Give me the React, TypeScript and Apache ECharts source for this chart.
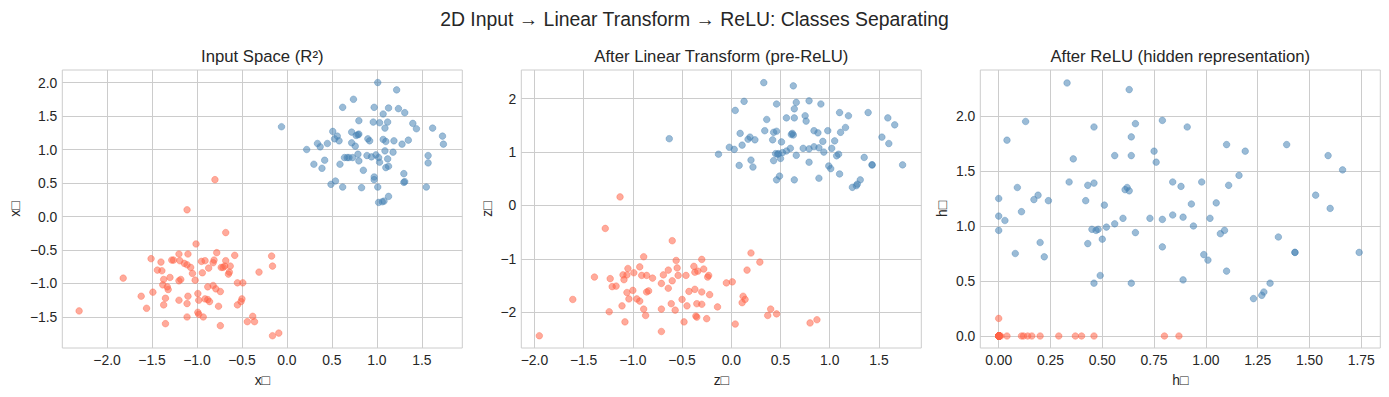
import React, { useEffect, useRef } from "react";
import * as echarts from "echarts";

const SUPTITLE = "2D Input → Linear Transform → ReLU: Classes Separating";
const PANEL_TITLES = [
  "Input Space (R²)",
  "After Linear Transform (pre-ReLU)",
  "After ReLU (hidden representation)",
];
const X_NAMES = ["x□", "z□", "h□"];
const Y_NAMES = ["x□", "z□", "h□"];

const P1_X_TICKS = [-2, -1.5, -1, -0.5, 0, 0.5, 1, 1.5];
const P1_Y_TICKS = [-1.5, -1, -0.5, 0, 0.5, 1, 1.5, 2];
const P2_X_TICKS = [-2, -1.5, -1, -0.5, 0, 0.5, 1, 1.5];
const P2_Y_TICKS = [-2, -1, 0, 1, 2];
const P3_X_TICKS = [0, 0.25, 0.5, 0.75, 1, 1.25, 1.5, 1.75];
const P3_Y_TICKS = [0, 0.5, 1, 1.5, 2];

// Panel 1: input space
const inputBlue = [
  [1.01, 2.0], [1.22, 1.89], [0.74, 1.75], [0.62, 1.63], [0.97, 1.63], [1.13, 1.62], [1.24, 1.61],
  [1.31, 1.55], [1.07, 1.53], [0.8, 1.43], [0.96, 1.41], [1.03, 1.4], [1.12, 1.41], [1.4, 1.39],
  [1.09, 1.32], [1.44, 1.31], [1.62, 1.32], [-0.06, 1.34], [0.51, 1.27], [0.56, 1.2], [0.72, 1.26],
  [0.79, 1.22], [0.77, 1.21], [0.8, 1.23], [1.73, 1.2], [1.74, 1.08], [0.34, 1.09], [0.37, 1.04],
  [0.45, 1.09], [0.53, 1.16], [0.58, 1.13], [0.72, 1.1], [0.76, 1.05], [0.9, 1.16], [0.92, 1.13],
  [1.07, 1.15], [1.1, 1.12], [1.19, 1.13], [1.28, 1.08], [1.35, 1.14], [0.22, 1.0], [1.09, 0.98],
  [1.18, 0.96], [1.57, 0.91], [1.57, 0.8], [0.42, 0.84], [0.3, 0.78], [0.39, 0.72], [0.59, 0.78],
  [0.64, 0.88], [0.67, 0.88], [0.69, 0.88], [0.73, 0.88], [0.79, 0.93], [0.8, 0.83], [0.89, 0.91],
  [0.94, 0.89], [0.99, 0.92], [1.02, 0.88], [1.03, 0.81], [1.12, 0.86], [1.1, 0.73], [1.13, 0.75],
  [0.85, 0.69], [1.3, 0.64], [1.3, 0.51], [1.31, 0.52], [0.97, 0.59], [0.97, 0.55], [0.54, 0.53],
  [0.49, 0.48], [0.62, 0.44], [0.83, 0.43], [1.01, 0.44], [1.55, 0.44], [1.13, 0.3], [1.08, 0.23],
  [1.06, 0.22], [1.02, 0.21],
];
const inputRed = [
  [-0.8, 0.55], [-1.11, 0.1], [-0.68, -0.24], [-1.01, -0.41], [-2.31, -1.41], [-1.82, -0.92],
  [-1.51, -0.63], [-1.4, -0.68], [-1.44, -0.8], [-1.39, -0.81], [-1.2, -0.56], [-1.1, -0.56],
  [-1.28, -0.65], [-1.26, -0.65], [-1.19, -0.66], [-1.14, -0.7], [-1.11, -0.72], [-1.07, -0.76],
  [-0.95, -0.67], [-0.91, -0.66], [-0.81, -0.65], [-0.78, -0.54], [-0.82, -0.69], [-0.68, -0.66],
  [-0.69, -0.74], [-0.63, -0.74], [-0.58, -0.58], [-0.71, -0.76], [-0.73, -0.76], [-0.87, -0.77],
  [-0.94, -0.84], [-1.37, -0.94], [-1.3, -0.91], [-1.2, -0.96], [-1.18, -0.94], [-1.05, -0.85],
  [-1.02, -0.95], [-0.65, -0.86], [-0.64, -0.83], [-0.55, -0.99], [-1.38, -1.02], [-1.33, -1.05],
  [-1.32, -1.09], [-1.49, -1.13], [-1.62, -1.19], [-1.35, -1.22], [-1.37, -1.32], [-1.56, -1.37],
  [-1.2, -1.25], [-1.1, -1.19], [-1.11, -1.3], [-0.99, -1.15], [-0.98, -1.25], [-0.91, -1.23],
  [-0.88, -1.24], [-0.86, -1.27], [-0.88, -1.05], [-0.82, -1.03], [-0.79, -1.08], [-0.74, -1.12],
  [-0.76, -1.34], [-0.55, -1.32], [-1.11, -1.5], [-0.99, -1.43], [-0.98, -1.46], [-0.93, -1.5],
  [-1.35, -1.6], [-0.74, -1.63], [-0.17, -0.59], [-0.16, -0.74], [-0.31, -0.83], [-0.49, -0.99],
  [-0.5, -1.23], [-0.51, -1.27], [-0.38, -1.49], [-0.44, -1.57], [-0.36, -1.57], [-0.16, -1.78],
  [-0.09, -1.74],
];

// Panel 2: after linear transform
const linearBlue = [
  [-0.63, 1.25], [0.33, 2.3], [0.63, 2.24], [0.13, 1.95], [0.04, 1.78], [0.46, 1.9], [0.66, 1.93],
  [0.64, 1.81], [0.79, 1.96], [0.91, 1.9], [1.1, 1.74], [1.19, 1.68], [1.39, 1.74], [1.59, 1.64],
  [1.66, 1.51], [0.36, 1.61], [0.56, 1.64], [0.64, 1.64], [0.75, 1.68], [0.76, 1.58], [0.09, 1.35],
  [0.34, 1.4], [0.43, 1.37], [0.46, 1.39], [0.62, 1.35], [0.63, 1.32], [0.61, 1.33], [0.84, 1.4],
  [0.88, 1.36], [0.98, 1.4], [1.11, 1.37], [1.16, 1.46], [1.53, 1.28], [1.6, 1.16], [0.19, 1.28],
  [0.17, 1.24], [0.24, 1.23], [0.11, 1.13], [0.42, 1.23], [0.51, 1.19], [0.93, 1.2], [1.05, 1.21],
  [-0.02, 1.09], [0.03, 1.05], [-0.13, 0.96], [0.6, 1.07], [0.56, 1.02], [0.52, 0.99], [0.48, 0.97],
  [0.45, 0.97], [0.47, 0.96], [0.73, 1.07], [0.79, 1.06], [0.84, 1.1], [0.89, 1.08], [0.94, 1.0],
  [1.02, 1.07], [1.09, 0.96], [1.07, 0.93], [0.66, 0.94], [0.5, 0.88], [0.43, 0.84], [0.2, 0.85],
  [0.08, 0.75], [0.22, 0.72], [0.79, 0.81], [0.99, 0.74], [1.01, 0.69], [1.35, 0.9], [1.43, 0.76],
  [1.43, 0.76], [1.74, 0.76], [1.1, 0.59], [0.49, 0.55], [0.46, 0.48], [0.64, 0.48], [0.89, 0.51],
  [1.31, 0.48], [1.28, 0.4], [1.27, 0.37], [1.23, 0.34],
];
const linearRed = [
  [-1.13, 0.16], [-1.28, -0.43], [-0.6, -0.66], [-1.39, -1.34], [-1.61, -1.76], [-1.95, -2.44],
  [-1.23, -1.37], [-1.21, -1.52], [-1.17, -1.51], [-1.1, -1.3], [-1.09, -1.39], [-1.06, -1.3],
  [-1.05, -1.18], [-0.99, -1.26], [-0.93, -1.15], [-0.89, -0.96], [-0.91, -1.31], [-0.86, -1.31],
  [-0.8, -1.36], [-0.71, -1.46], [-0.69, -1.3], [-0.64, -1.21], [-0.6, -1.41], [-0.55, -1.17],
  [-0.56, -1.03], [-0.54, -1.31], [-0.46, -1.31], [-0.38, -1.14], [-0.37, -1.25], [-0.34, -1.23],
  [-0.3, -1.01], [-0.28, -1.19], [-0.23, -1.31], [-0.24, -1.34], [-1.06, -1.63], [-1.04, -1.75],
  [-1.0, -1.59], [-0.96, -1.75], [-0.93, -1.79], [-0.86, -1.62], [-0.84, -1.6], [-0.64, -1.55],
  [-0.61, -1.84], [-0.57, -1.96], [-0.5, -1.76], [-0.45, -1.88], [-0.43, -1.61], [-0.37, -1.57],
  [-0.35, -1.84], [-0.3, -1.62], [-0.3, -1.85], [-0.22, -1.67], [-1.11, -1.88], [-1.24, -1.99],
  [-1.08, -2.18], [-0.89, -1.94], [-0.87, -2.06], [-0.71, -1.94], [-0.71, -2.36], [-0.48, -2.18],
  [-0.36, -2.07], [-0.35, -2.09], [-0.25, -2.12], [0.2, -0.89], [0.29, -1.06], [0.16, -1.21],
  [-0.05, -1.45], [0.01, -1.43], [-0.14, -1.9], [0.12, -1.7], [0.14, -1.76], [0.11, -1.82],
  [0.4, -1.94], [0.37, -2.06], [0.46, -2.03], [0.04, -2.22], [0.8, -2.2], [0.87, -2.14],
];

// Panel 3: after ReLU
const reluBlue = [
  [0, 1.25], [0.33, 2.3], [0.63, 2.24], [0.13, 1.95], [0.04, 1.78], [0.46, 1.9], [0.66, 1.93],
  [0.64, 1.81], [0.79, 1.96], [0.91, 1.9], [1.1, 1.74], [1.19, 1.68], [1.39, 1.74], [1.59, 1.64],
  [1.66, 1.51], [0.36, 1.61], [0.56, 1.64], [0.64, 1.64], [0.75, 1.68], [0.76, 1.58], [0.09, 1.35],
  [0.34, 1.4], [0.43, 1.37], [0.46, 1.39], [0.62, 1.35], [0.63, 1.32], [0.61, 1.33], [0.84, 1.4],
  [0.88, 1.36], [0.98, 1.4], [1.11, 1.37], [1.16, 1.46], [1.53, 1.28], [1.6, 1.16], [0.19, 1.28],
  [0.17, 1.24], [0.24, 1.23], [0.11, 1.13], [0.42, 1.23], [0.51, 1.19], [0.93, 1.2], [1.05, 1.21],
  [0, 1.09], [0.03, 1.05], [0, 0.96], [0.6, 1.07], [0.56, 1.02], [0.52, 0.99], [0.48, 0.97],
  [0.45, 0.97], [0.47, 0.96], [0.73, 1.07], [0.79, 1.06], [0.84, 1.1], [0.89, 1.08], [0.94, 1.0],
  [1.02, 1.07], [1.09, 0.96], [1.07, 0.93], [0.66, 0.94], [0.5, 0.88], [0.43, 0.84], [0.2, 0.85],
  [0.08, 0.75], [0.22, 0.72], [0.79, 0.81], [0.99, 0.74], [1.01, 0.69], [1.35, 0.9], [1.43, 0.76],
  [1.43, 0.76], [1.74, 0.76], [1.1, 0.59], [0.49, 0.55], [0.46, 0.48], [0.64, 0.48], [0.89, 0.51],
  [1.31, 0.48], [1.28, 0.4], [1.27, 0.37], [1.23, 0.34],
];
const reluRed = [
  [0, 0.16],
  [0, 0], [0, 0], [0, 0], [0, 0], [0, 0], [0, 0], [0, 0], [0, 0],
  [0, 0], [0, 0], [0, 0], [0, 0], [0, 0], [0, 0], [0, 0], [0, 0],
  [0, 0], [0, 0], [0, 0], [0, 0], [0, 0], [0, 0], [0, 0], [0, 0],
  [0, 0], [0, 0], [0, 0], [0, 0], [0, 0], [0, 0], [0, 0], [0, 0],
  [0, 0], [0, 0], [0, 0], [0, 0], [0, 0], [0, 0], [0, 0], [0, 0],
  [0, 0], [0, 0], [0, 0], [0, 0], [0, 0], [0, 0], [0, 0], [0, 0],
  [0, 0], [0, 0], [0, 0], [0, 0], [0, 0], [0, 0], [0, 0], [0, 0],
  [0, 0], [0, 0], [0, 0], [0, 0], [0, 0], [0, 0], [0, 0], [0, 0],
  [0.2, 0], [0.29, 0], [0.16, 0], [0.01, 0], [0.12, 0], [0.14, 0], [0.11, 0],
  [0.4, 0], [0.37, 0], [0.46, 0], [0.04, 0], [0.8, 0], [0.87, 0],
];

const FONT = '"Liberation Sans", Arial, "DejaVu Sans", sans-serif';
const TEXT = "#262626";
const GRIDC = "#cccccc";
const BLUE = "rgba(70,130,180,0.68)";
const RED = "rgba(255,99,71,0.68)";

export default function App() {
  const ref = useRef<HTMLDivElement>(null);

  useEffect(() => {
    if (!ref.current) return;
    const chart = echarts.init(ref.current, null, { renderer: "svg" });

    const lefts = [62.3, 521.3, 980.3];
    const top = 70;
    const width = 400;
    const height = 278;
    const panels = [
      { xt: P1_X_TICKS, yt: P1_Y_TICKS, xd: 1, yd: 1, xr: [-2.497, 1.95], yr: [-1.963, 2.187], blue: inputBlue, red: inputRed, yGap: 40 },
      { xt: P2_X_TICKS, yt: P2_Y_TICKS, xd: 1, yd: 0, xr: [-2.133, 1.93], yr: [-2.669, 2.537], blue: linearBlue, red: linearRed, yGap: 27 },
      { xt: P3_X_TICKS, yt: P3_Y_TICKS, xd: 2, yd: 1, xr: [-0.0888, 1.842], yr: [-0.109, 2.418], blue: reluBlue, red: reluRed, yGap: 31 },
    ];
    const fmt = (d: number) => (v: number) => Number(v).toFixed(d).replace("-", "\u2212");
    const labelStyle = { color: TEXT, fontSize: 13.9, fontFamily: FONT };

    const series: any[] = [];
    panels.forEach((p, i) => {
      series.push({
        type: "scatter",
        xAxisIndex: i,
        yAxisIndex: i,
        data: p.red,
        symbolSize: 6.6,
        silent: true,
        itemStyle: { color: RED, borderColor: RED, borderWidth: 0.7 },
      });
      series.push({
        type: "scatter",
        xAxisIndex: i,
        yAxisIndex: i,
        data: p.blue,
        symbolSize: 6.6,
        silent: true,
        itemStyle: { color: BLUE, borderColor: BLUE, borderWidth: 0.7 },
      });
    });

    const graphic: any[] = [
      {
        type: "text",
        x: 694.5,
        y: 19,
        style: { text: SUPTITLE, fill: TEXT, fontSize: 19.4, fontFamily: FONT, align: "center", verticalAlign: "middle" },
      },
      ...PANEL_TITLES.map((t, i) => ({
        type: "text",
        x: lefts[i] + width / 2,
        y: 56,
        style: { text: t, fill: TEXT, fontSize: 16.7, fontFamily: FONT, align: "center", verticalAlign: "middle" },
      })),
    ];

    const option: any = {
      animation: false,
      backgroundColor: "#ffffff",
      textStyle: { fontFamily: FONT },
      graphic,
      grid: panels.map((_, i) => ({
        left: lefts[i],
        top,
        width,
        height,
        show: true,
        borderColor: GRIDC,
        borderWidth: 1,
        backgroundColor: "transparent",
      })),
      xAxis: panels.map((p, i) => ({
        type: "value",
        gridIndex: i,
        min: p.xr[0],
        max: p.xr[1],
        name: X_NAMES[i],
        nameLocation: "middle",
        nameGap: 25,
        nameTextStyle: labelStyle,
        axisLine: { show: false },
        axisTick: { show: false, customValues: p.xt },
        axisLabel: { customValues: p.xt, formatter: fmt(p.xd), margin: 5, ...labelStyle },
        splitLine: { show: true, lineStyle: { color: GRIDC, width: 1 } },
      })),
      yAxis: panels.map((p, i) => ({
        type: "value",
        gridIndex: i,
        min: p.yr[0],
        max: p.yr[1],
        name: Y_NAMES[i],
        nameLocation: "middle",
        nameGap: p.yGap,
        nameTextStyle: labelStyle,
        axisLine: { show: false },
        axisTick: { show: false, customValues: p.yt },
        axisLabel: { customValues: p.yt, formatter: fmt(p.yd), margin: 5, ...labelStyle },
        splitLine: { show: true, lineStyle: { color: GRIDC, width: 1 } },
      })),
      series,
    };

    chart.setOption(option);
    return () => chart.dispose();
  }, []);

  return (
    <div
      ref={ref}
      style={{ position: "absolute", left: 0, top: 0, width: 1389, height: 397, background: "#fff" }}
    />
  );
}
